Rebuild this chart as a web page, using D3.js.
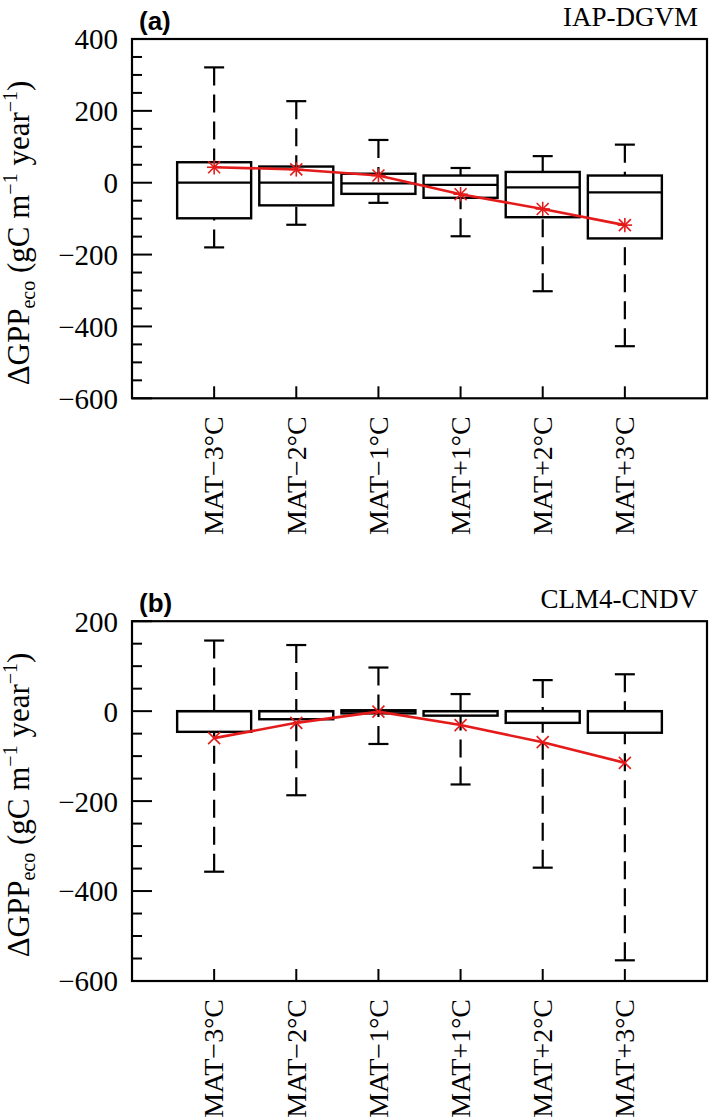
<!DOCTYPE html>
<meta charset="utf-8">
<style>
  body { margin: 0; background: white; }
</style>
<script src="https://d3js.org/d3.v7.min.js"></script>
<div id="chart"></div>
<script>

// categories
const categories = ["MAT−3°C", "MAT−2°C", "MAT−1°C", "MAT+1°C", "MAT+2°C", "MAT+3°C"];

// panel (a) IAP-DGVM
const iapHigh   = [321, 227, 119, 41, 74, 106];
const iapQ3     = [57, 45, 25, 20, 30, 20];
const iapMedian = [0, 0, -2, -6, -13, -27];
const iapQ1     = [-99, -63, -31, -42, -96, -155];
const iapLow    = [-180, -117, -56, -149, -302, -455];
const iapMean   = [43, 37, 20, -32, -73, -118];

// panel (b) CLM4-CNDV
const clmHigh   = [157, 147, 97, 38, 69, 82];
const clmQ3     = [0, 0, 2, 0, 0, 0];
const clmMedian = [0, 0, 0, 0, 0, 0];
const clmQ1     = [-46, -18, -5, -10, -26, -48];
const clmLow    = [-357, -187, -73, -163, -348, -554];
const clmMean   = [-60, -26, -1, -31, -69, -115];

// tick labels
const yTicksA = [400, 200, 0, -200, -400, -600];
const yTicksB = [200, 0, -200, -400, -600];

const W = 709, H = 1119;
const red = "#e41b1b";
const serif = "'Liberation Serif', 'Times New Roman', serif";

const svg = d3.select("#chart").append("svg")
    .attr("width", W)
    .attr("height", H)
    .style("background", "white")
    .attr("font-family", serif);

function fmt(v) { return v < 0 ? "\u2212" + Math.abs(v) : String(v); }

function drawPanel(opt) {
  const left = 132, right = 707;
  const g = svg.append("g");

  const x = d3.scaleLinear().domain([0, categories.length + 1]).range([left, right]);
  const y = d3.scaleLinear().domain(opt.domain).range([opt.bottom, opt.top]);

  const rows = categories.map((c, i) => ({
    cat: c, i: i + 1,
    hi: opt.hi[i], q3: opt.q3[i], med: opt.med[i], q1: opt.q1[i], lo: opt.lo[i], mean: opt.mean[i]
  }));

  // frame
  g.append("rect")
    .attr("x", left).attr("y", opt.top)
    .attr("width", right - left).attr("height", opt.bottom - opt.top)
    .attr("fill", "none").attr("stroke", "black").attr("stroke-width", 2.2);

  // y ticks, major + minor, pointing inward
  const minor = d3.range(opt.domain[0], opt.domain[1] + 1, 50);
  g.append("g").selectAll("line")
    .data(minor)
    .enter().append("line")
      .attr("x1", left)
      .attr("x2", d => left + (d % 200 === 0 ? 20 : 10))
      .attr("y1", d => y(d)).attr("y2", d => y(d))
      .attr("stroke", "black").attr("stroke-width", 2);

  g.append("g").selectAll("text")
    .data(opt.ticks)
    .enter().append("text")
      .attr("x", 118)
      .attr("y", d => y(d))
      .attr("dy", "0.36em")
      .attr("text-anchor", "end")
      .attr("font-size", 29)
      .text(fmt);

  // x ticks
  g.append("g").selectAll("line")
    .data(rows)
    .enter().append("line")
      .attr("x1", d => x(d.i)).attr("x2", d => x(d.i))
      .attr("y1", opt.bottom).attr("y2", opt.bottom - 12)
      .attr("stroke", "black").attr("stroke-width", 2);

  // x labels, rotated
  g.append("g").selectAll("text")
    .data(rows)
    .enter().append("text")
      .attr("transform", d => "translate(" + x(d.i) + "," + (opt.bottom + 18) + ") rotate(-90)")
      .attr("dy", "0.33em")
      .attr("text-anchor", "end")
      .attr("font-size", 28)
      .text(d => d.cat);

  const bw = 74, cap = 20;

  // whiskers (dashed, drawn from cap toward box)
  const wh = g.append("g");
  rows.forEach(d => {
    wh.append("line")
      .attr("x1", x(d.i)).attr("x2", x(d.i))
      .attr("y1", y(d.hi)).attr("y2", y(d.q3))
      .attr("stroke", "black").attr("stroke-width", 2.2)
      .attr("stroke-dasharray", "18,9");
    wh.append("line")
      .attr("x1", x(d.i)).attr("x2", x(d.i))
      .attr("y1", y(d.lo)).attr("y2", y(d.q1))
      .attr("stroke", "black").attr("stroke-width", 2.2)
      .attr("stroke-dasharray", "18,9");
    [d.hi, d.lo].forEach(v => {
      wh.append("line")
        .attr("x1", x(d.i) - cap / 2).attr("x2", x(d.i) + cap / 2)
        .attr("y1", y(v)).attr("y2", y(v))
        .attr("stroke", "black").attr("stroke-width", 2.2);
    });
  });

  // boxes
  g.append("g").selectAll("rect")
    .data(rows)
    .enter().append("rect")
      .attr("x", d => x(d.i) - bw / 2)
      .attr("y", d => y(d.q3))
      .attr("width", bw)
      .attr("height", d => Math.max(1, y(d.q1) - y(d.q3)))
      .attr("fill", "white")
      .attr("stroke", "black").attr("stroke-width", 2.4);

  // medians
  g.append("g").selectAll("line")
    .data(rows)
    .enter().append("line")
      .attr("x1", d => x(d.i) - bw / 2).attr("x2", d => x(d.i) + bw / 2)
      .attr("y1", d => y(d.med)).attr("y2", d => y(d.med))
      .attr("stroke", "black").attr("stroke-width", 2.2);

  // mean line
  g.append("path")
    .datum(rows)
    .attr("fill", "none")
    .attr("stroke", red)
    .attr("stroke-width", 2.6)
    .attr("d", d3.line().x(d => x(d.i)).y(d => y(d.mean)));

  // markers
  const s = 6;
  rows.forEach(d => {
    const cx = x(d.i), cy = y(d.mean);
    const segs = [[-s, -s, s, s], [-s, s, s, -s]];
    if (opt.asterisk) segs.push([0, -s * 1.2, 0, s * 1.2], [-s * 1.2, 0, s * 1.2, 0]);
    segs.forEach(p => {
      g.append("line")
        .attr("x1", cx + p[0]).attr("y1", cy + p[1])
        .attr("x2", cx + p[2]).attr("y2", cy + p[3])
        .attr("stroke", red).attr("stroke-width", 1.6);
    });
  });

  // panel letter
  g.append("text")
    .attr("x", 139).attr("y", opt.top - 9)
    .attr("font-family", "'Liberation Sans', Arial, sans-serif")
    .attr("font-weight", "bold")
    .attr("font-size", 26)
    .text(opt.letter);

  // model name
  g.append("text")
    .attr("x", 698).attr("y", opt.top - 13)
    .attr("text-anchor", "end")
    .attr("font-size", 27)
    .text(opt.model);

  // y label
  const lab = g.append("text")
    .attr("transform", "translate(29," + opt.labelY + ") rotate(-90)")
    .attr("text-anchor", "middle")
    .attr("font-size", 31);
  lab.append("tspan").text("\u0394GPP");
  lab.append("tspan").attr("font-size", 20).attr("dy", 6).text("eco");
  lab.append("tspan").attr("dy", -6).text(" (gC m");
  lab.append("tspan").attr("font-size", 20).attr("dy", -12).text("\u22121");
  lab.append("tspan").attr("dy", 12).text(" year");
  lab.append("tspan").attr("font-size", 20).attr("dy", -12).text("\u22121");
  lab.append("tspan").attr("dy", 12).text(")");
}

drawPanel({
  letter: "(a)", model: "IAP-DGVM",
  domain: [-600, 400], ticks: yTicksA,
  top: 39, bottom: 398.3, labelY: 233,
  hi: iapHigh, q3: iapQ3, med: iapMedian, q1: iapQ1, lo: iapLow, mean: iapMean,
  asterisk: true
});

drawPanel({
  letter: "(b)", model: "CLM4-CNDV",
  domain: [-600, 200], ticks: yTicksB,
  top: 621.2, bottom: 981, labelY: 805,
  hi: clmHigh, q3: clmQ3, med: clmMedian, q1: clmQ1, lo: clmLow, mean: clmMean,
  asterisk: false
});

</script>
